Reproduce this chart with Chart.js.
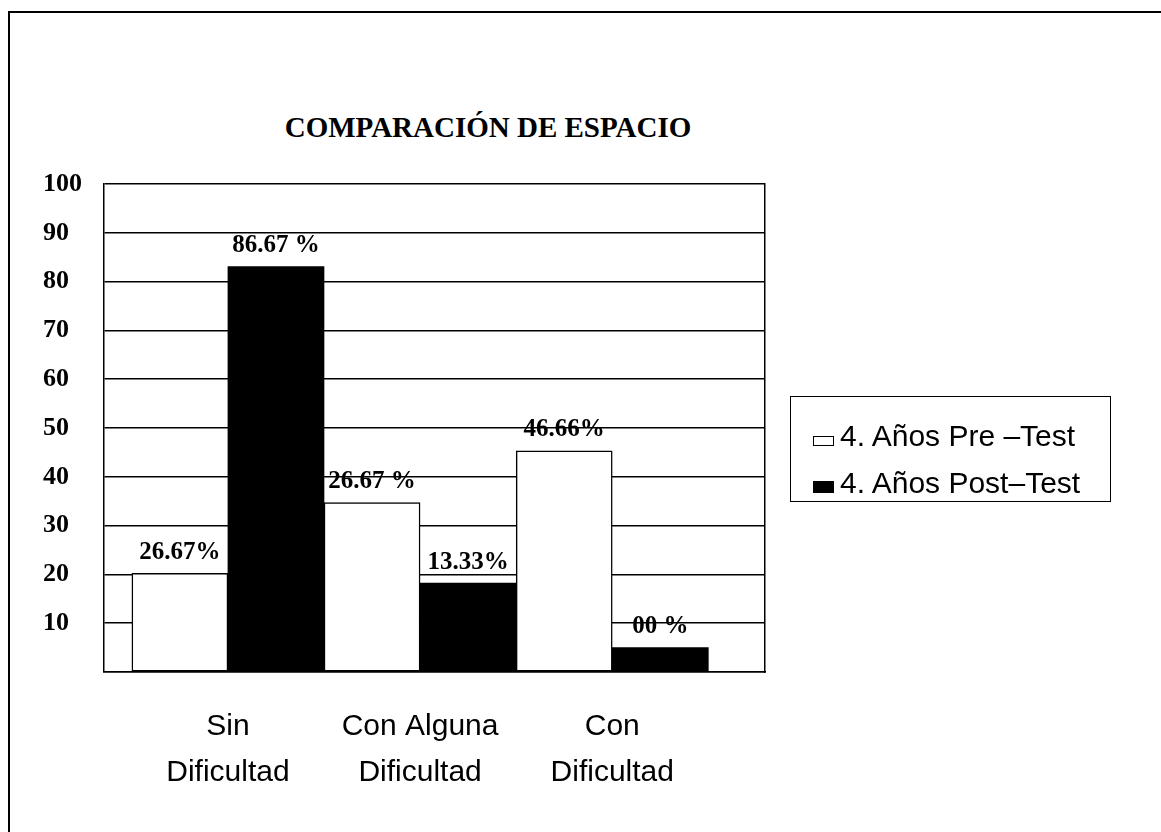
<!DOCTYPE html>
<html>
<head>
<meta charset="utf-8">
<script src="https://cdn.jsdelivr.net/npm/chart.js@4.4.1/dist/chart.umd.min.js"></script>
<style>
  html, body { margin: 0; padding: 0; background: #fff; }
  #wrap { position: relative; width: 1161px; height: 832px; overflow: hidden; }
  #frame { position: absolute; left: 8px; top: 11px; width: 1200px; height: 900px;
           border-left: 2px solid #000; border-top: 2px solid #000; }
  #title { position: absolute; left: 238px; width: 500px; top: 111px; text-align: center;
           font: bold 29px "Liberation Serif", "Times New Roman", serif; color: #000; }
  canvas { position: absolute; left: 0; top: 0; }
  #legend { position: absolute; left: 790px; top: 396px; width: 321px; height: 106px;
            border: 1.5px solid #000; box-sizing: border-box; }
  #legend .row { position: absolute; left: 22px; white-space: nowrap;
                 font: 30px "Liberation Sans", Arial, sans-serif; line-height: 30px; color: #000; }
  #legend .box { display: inline-block; width: 21px; margin-right: 6px; vertical-align: baseline;
                 box-sizing: border-box; }
</style>
</head>
<body>
<div id="wrap">
  <div id="frame"></div>
  <div id="title">COMPARACIÓN DE ESPACIO</div>
  <canvas id="chart" width="1161" height="832"></canvas>
  <div id="legend"></div>
</div>
<script>
// datos
const categories = [["Sin", "Dificultad"], ["Con Alguna", "Dificultad"], ["Con", "Dificultad"]];
const seriesNames = ["4. Años Pre \u2013Test", "4. Años Post\u2013Test"];
const preValues = [20.2, 34.7, 45.3];
const postValues = [83.1, 18.2, 5.0];
const preLabels = ["26.67%", "26.67 %", "46.66%"];
const postLabels = ["86.67 %", "13.33%", "00 %"];
const yMin = 0, yMax = 100, yStep = 10;

const serif = "'Liberation Serif', 'Times New Roman', serif";
const sans = "'Liberation Sans', Arial, sans-serif";

// cada barra ocupa su propia posicion: pre en 2i, post en 2i+1
const toPoints = (vals, shift) => vals.map((v, i) => ({ x: 2 * i + shift, y: v }));
const catCenters = categories.map((_, i) => 2 * i + 0.5);

// etiquetas encima de cada barra
const barLabels = {
  id: "barLabels",
  afterDatasetsDraw(chart) {
    const ctx = chart.ctx;
    ctx.save();
    ctx.font = "bold 25px " + serif;
    ctx.fillStyle = "#000";
    ctx.textAlign = "center";
    ctx.textBaseline = "middle";
    chart.data.datasets.forEach((ds, di) => {
      chart.getDatasetMeta(di).data.forEach((bar, i) => {
        ctx.fillText(ds.valueLabels[i], bar.x, bar.y - 21);
      });
    });
    ctx.restore();
  }
};

// leyenda en html con recuadro (la de Chart.js no cabe a este tamano)
const htmlLegend = {
  id: "htmlLegend",
  afterUpdate(chart) {
    const box = document.getElementById("legend");
    const rowTops = [24, 71];
    const boxHeights = [10, 12];
    box.innerHTML = chart.data.datasets.map((ds, i) => `
      <div class="row" style="top:${rowTops[i]}px">
        <span class="box" style="height:${boxHeights[i]}px;background:${ds.backgroundColor};border:1px solid ${ds.borderColor}"></span>${ds.label}
      </div>`).join("");
  }
};

new Chart(document.getElementById("chart"), {
  type: "bar",
  data: {
    datasets: [
      {
        label: seriesNames[0],
        data: toPoints(preValues, 0),
        valueLabels: preLabels,
        backgroundColor: "#ffffff",
        borderColor: "#000000",
        borderWidth: 1.5,
        borderSkipped: false
      },
      {
        label: seriesNames[1],
        data: toPoints(postValues, 1),
        valueLabels: postLabels,
        backgroundColor: "#000000",
        borderColor: "#000000",
        borderWidth: 0
      }
    ]
  },
  options: {
    responsive: false,
    animation: false,
    grouped: false,
    categoryPercentage: 1,
    barPercentage: 1,
    layout: { padding: { left: 43, top: 184, right: 394, bottom: 30 } },
    scales: {
      x: {
        type: "linear",
        offset: false,
        min: -0.79,
        max: 6.09,
        afterBuildTicks: (s) => { s.ticks = catCenters.map(v => ({ value: v })); },
        afterFit: (s) => { s.height = 130; },
        ticks: {
          autoSkip: false,
          maxRotation: 0,
          padding: 32,
          color: "#000",
          font: { family: sans, size: 30, lineHeight: 1.53 },
          callback: (v) => {
            const i = catCenters.indexOf(v);
            return i >= 0 ? categories[i] : "";
          }
        },
        grid: { display: false, drawTicks: false },
        border: { display: true, color: "#000", width: 1.5 }
      },
      y: {
        min: yMin,
        max: yMax,
        afterFit: (s) => { s.width = 61; },
        ticks: {
          stepSize: yStep,
          crossAlign: "far",
          color: "#000",
          font: { family: serif, size: 26, weight: "bold" },
          callback: (v) => (v === 0 ? "" : v)
        },
        grid: { color: "#000", lineWidth: 1.5, drawTicks: false },
        border: { display: true, color: "#000", width: 1.5 }
      },
      y2: {
        position: "right",
        afterFit: (s) => { s.width = 2; },
        ticks: { display: false },
        grid: { drawOnChartArea: false, drawTicks: false },
        border: { display: true, color: "#000", width: 1.5 }
      }
    },
    plugins: {
      title: { display: false },
      tooltip: { enabled: false },
      legend: { display: false }
    }
  },
  plugins: [barLabels, htmlLegend]
});
</script>
</body>
</html>
